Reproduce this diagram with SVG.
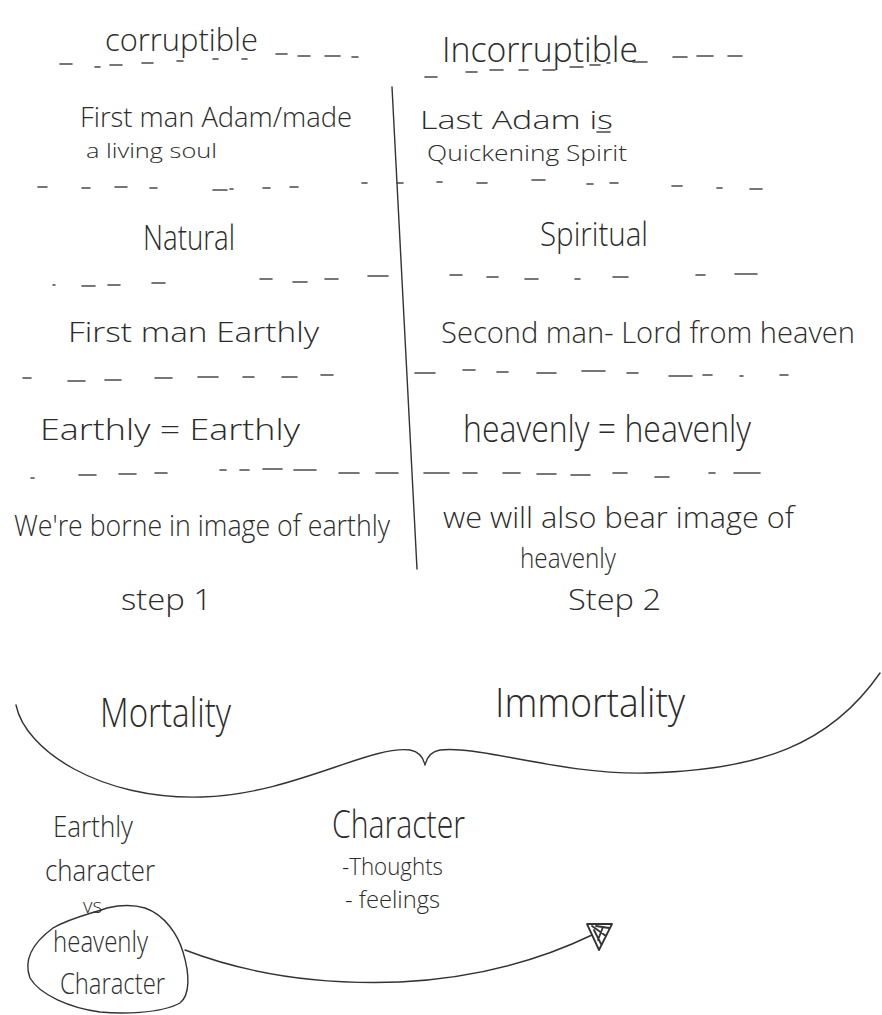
<svg xmlns="http://www.w3.org/2000/svg" width="882" height="1015" viewBox="0 0 882 1015">
<style>
text{font-family:"Open Sans","Liberation Sans","DejaVu Sans",sans-serif;font-weight:300;fill:#2b2b2b;}
.dash{fill:none;stroke:#4a4a4a;stroke-width:1.6;stroke-linecap:round;}
.ln{fill:none;stroke:#333;stroke-width:1.4;stroke-linecap:round;stroke-linejoin:round;}
</style>
<rect width="882" height="1015" fill="#fff"/>

<g id="separators" class="dash">
<path d="M60,64h12M95,67h5M110,65h12M142,63h11M177,61h6M213,59h5M242,59h5M276,54h11M298,56h12M325,56h15M352,57h6"/>
<path d="M425,77h12M466,72h11M490,70h13M519,70h9M543,70h12M570,67h13M590,65h10M607,63h3M633,62h14M673,57h14M697,56h16M728,56h14"/>
<path d="M38,187h9M82,188h8M115,187h12M150,188h7M213,190h14M230,189h3M263,188h7M290,187h8M362,183h5"/>
<path d="M397,183h6M437,182h5M477,183h10M532,180h13M587,184h6M610,183h8M672,186h10M717,188h5M750,189h12"/>
<path d="M53,285h2M82,286h13M108,285h12M152,283h13M260,279h12M293,282h14M325,279h13M368,276h20"/>
<path d="M450,275h12M487,277h11M525,279h13M575,279h5M613,277h15M696,275h9M735,274h22"/>
<path d="M23,378h8M68,381h17M105,380h16M155,378h17M198,377h20M243,377h11M282,377h15M321,375h12"/>
<path d="M415,373h20M463,370h12M497,372h11M537,373h19M582,371h23M627,373h11M669,376h23M703,375h9M740,376h3M780,375h8"/>
<path d="M31,478h3M79,475h17M119,474h17M155,473h12M220,470h6M240,470h9M263,469h19M294,470h22M339,473h20M376,473h22"/>
<path d="M424,473h25M463,473h14M503,473h17M537,474h19M571,475h19M613,473h14M655,477h14M709,473h6M734,473h26"/>
<path d="M597,132h13"/>
</g>

<g id="connectors" class="ln">
<path id="divider" d="M392,87 Q404,300 417,569"/>
<path id="brace" d="M16,705 C25,750 100,800 202,797 C290,795 370,745 410,750 Q422,752 425,765 Q428,752 440,750 C480,745 560,775 647,773 C760,770 830,745 880,673"/>
<path id="loop" d="M53,928 C70,918 90,914 107,908 C120,905 135,905 145,908 C165,915 178,935 183,952 C190,975 190,995 180,1003 C160,1014 120,1014 100,1012 C70,1008 40,995 30,978 C24,962 30,945 53,928"/>
<path id="arrow" d="M185,950 C250,975 320,985 400,982 C480,978 540,960 592,935"/>
<path id="arrowhead" d="M587,924 L612,924 L599,950 Z M592,926 L606,936 M596,926 L609,928 M594,930 L601,944 M603,927 L598,940" stroke-width="1.8"/>
</g>

<g id="corruptible"><text x="105" y="51" font-size="31" textLength="153" lengthAdjust="spacingAndGlyphs">corruptible</text></g>
<g id="incorruptible"><text x="442" y="62" font-size="34" textLength="196" lengthAdjust="spacingAndGlyphs">Incorruptible</text></g>

<g id="first-adam">
<text x="80" y="127" font-size="27" textLength="272" lengthAdjust="spacingAndGlyphs">First man  Adam/made</text>
<text x="86" y="158" font-size="21" textLength="131" lengthAdjust="spacingAndGlyphs">a living soul</text>
</g>
<g id="last-adam">
<text x="420" y="129" font-size="25" textLength="193" lengthAdjust="spacingAndGlyphs">Last Adam  is</text>
<text x="427" y="161" font-size="22" textLength="200" lengthAdjust="spacingAndGlyphs">Quickening Spirit</text>
</g>

<g id="natural"><text x="143" y="250" font-size="35" textLength="92" lengthAdjust="spacingAndGlyphs">Natural</text></g>
<g id="spiritual"><text x="540" y="246" font-size="33" textLength="108" lengthAdjust="spacingAndGlyphs">Spiritual</text></g>

<g id="first-man-earthly"><text x="68" y="342" font-size="28" textLength="251" lengthAdjust="spacingAndGlyphs">First man   Earthly</text></g>
<g id="second-man"><text x="441" y="343" font-size="29" textLength="414" lengthAdjust="spacingAndGlyphs">Second man- Lord from heaven</text></g>

<g id="earthly-eq"><text x="40" y="440" font-size="30" textLength="260" lengthAdjust="spacingAndGlyphs">Earthly = Earthly</text></g>
<g id="heavenly-eq"><text x="463" y="442" font-size="36" textLength="288" lengthAdjust="spacingAndGlyphs">heavenly = heavenly</text></g>

<g id="borne-earthly"><text x="14" y="536" font-size="30" textLength="376" lengthAdjust="spacingAndGlyphs">We're borne in image of earthly</text></g>
<g id="bear-heavenly">
<text x="443" y="528" font-size="30" textLength="351" lengthAdjust="spacingAndGlyphs">we will also bear image of</text>
<text x="520" y="568" font-size="28" textLength="96" lengthAdjust="spacingAndGlyphs">heavenly</text>
</g>

<g id="step1"><text x="121" y="610" font-size="30" textLength="91" lengthAdjust="spacingAndGlyphs">step 1</text></g>
<g id="step2"><text x="568" y="610" font-size="30" textLength="93" lengthAdjust="spacingAndGlyphs">Step 2</text></g>

<g id="mortality"><text x="100" y="727" font-size="40" textLength="131" lengthAdjust="spacingAndGlyphs">Mortality</text></g>
<g id="immortality"><text x="495" y="717" font-size="40" textLength="190" lengthAdjust="spacingAndGlyphs">Immortality</text></g>

<g id="earthly-character">
<text x="53" y="837" font-size="30" textLength="80" lengthAdjust="spacingAndGlyphs">Earthly</text>
<text x="45" y="881" font-size="29" textLength="110" lengthAdjust="spacingAndGlyphs">character</text>
<text x="83" y="913" font-size="21" textLength="19" lengthAdjust="spacingAndGlyphs">vs</text>
</g>
<g id="heavenly-character">
<text x="53" y="952" font-size="30" textLength="95" lengthAdjust="spacingAndGlyphs">heavenly</text>
<text x="60" y="994" font-size="30" textLength="105" lengthAdjust="spacingAndGlyphs">Character</text>
</g>

<g id="character">
<text x="332" y="838" font-size="38" textLength="133" lengthAdjust="spacingAndGlyphs">Character</text>
<text x="342" y="875" font-size="24" textLength="101" lengthAdjust="spacingAndGlyphs">-Thoughts</text>
<text x="345" y="908" font-size="24" textLength="95" lengthAdjust="spacingAndGlyphs">- feelings</text>
</g>
</svg>
